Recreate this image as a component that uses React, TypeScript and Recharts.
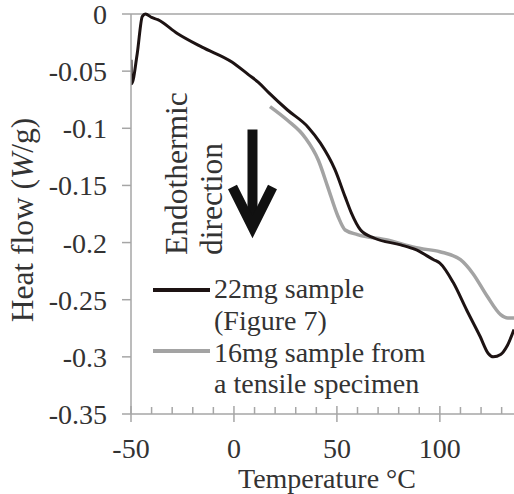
import React from 'react';
import { LineChart, Line, XAxis, YAxis, ReferenceLine } from 'recharts';

const FONT = 'Times New Roman';
const TEXT = '#333333';
const AXIS = '#a6a6a6';
const FS = 28;
const FS_ROT = 31.5;

// 22mg sample (Figure 7)
const sample22Temp = [-50, -49.7, -47, -44.5, -43, -40, -37, -27.5, -15.5, -1, 7, 12, 17, 26, 36, 42, 49, 54, 57, 61.5, 68, 81, 88, 97, 100, 106.5, 113, 119.5, 123.5, 126, 129.5, 132.5, 136];
const sample22Flow = [-0.040, -0.061, -0.035, -0.002, 0.0, -0.003, -0.005, -0.017, -0.029, -0.042, -0.053, -0.060, -0.069, -0.084, -0.099, -0.113, -0.136, -0.160, -0.174, -0.189, -0.196, -0.202, -0.206, -0.215, -0.218, -0.235, -0.259, -0.282, -0.297, -0.300, -0.298, -0.291, -0.276];

// 16mg sample from a tensile specimen
const sample16Temp = [17.5, 26, 34.5, 41, 45.5, 50.5, 54, 60, 75, 83, 90, 100, 110, 116, 123, 129.5, 133, 136];
const sample16Flow = [-0.081, -0.093, -0.108, -0.128, -0.151, -0.177, -0.189, -0.193, -0.198, -0.202, -0.205, -0.208, -0.215, -0.227, -0.247, -0.263, -0.266, -0.266];

const xTickValues = [-50, -40, -30, -20, -10, 0, 10, 20, 30, 40, 50, 60, 70, 80, 90, 100, 110, 120, 130];
const xLabelValues = [-50, 0, 50, 100];
const yTickValues = [0, -0.05, -0.1, -0.15, -0.2, -0.25, -0.3, -0.35];

const legendLabels = [
  ['22mg sample', '(Figure 7)'],
  ['16mg sample from', 'a tensile specimen'],
];
const annotationLines = ['Endothermic', 'direction'];

const data22 = sample22Temp.map((t, i) => ({ t, v: sample22Flow[i] }));
const data16 = sample16Temp.map((t, i) => ({ t, v: sample16Flow[i] }));

function XTick(props: any) {
  const { x, y, payload } = props;
  const major = xLabelValues.includes(payload.value);
  return (
    <g>
      <line x1={x} x2={x} y1={major ? y - 8 : y - 7} y2={major ? y + 8 : y} stroke={AXIS} strokeWidth={1.5} />
      {major && (
        <text x={x} y={y + 44} textAnchor="middle" fontSize={FS} fill={TEXT} fontFamily={FONT}>
          {payload.value}
        </text>
      )}
    </g>
  );
}

function YTick(props: any) {
  const { x, y, payload } = props;
  const v = payload.value;
  const label = v === 0 ? '0' : String(Math.round(v * 100) / 100);
  return (
    <text x={x} y={y + 10} textAnchor="end" fontSize={FS} fill={TEXT} fontFamily={FONT}>
      {label}
    </text>
  );
}

function ArrowShape(props: any) {
  const { x1, y1, x2, y2 } = props;
  const v = y2 - 11;
  return (
    <g>
      <line x1={x1} y1={y1} x2={x2} y2={v - 6} stroke="#111" strokeWidth={10} />
      <polyline
        points={`${x2 - 20},${v - 40} ${x2},${v} ${x2 + 20},${v - 40}`}
        fill="none"
        stroke="#111"
        strokeWidth={10}
        strokeLinejoin="miter"
      />
    </g>
  );
}

export default function App() {
  return (
    <div style={{ position: 'absolute', left: 0, top: 0, width: 514, height: 494, background: '#fff' }}>
      <LineChart width={514} height={494} margin={{ top: 14, right: 0, bottom: 0, left: 0 }}>
        <XAxis
          dataKey="t"
          type="number"
          domain={[-50, 136]}
          ticks={xTickValues}
          interval={0}
          allowDataOverflow
          tickLine={false}
          tickSize={0}
          tickMargin={0}
          height={80}
          stroke={AXIS}
          strokeWidth={1.5}
          tick={<XTick />}
        />
        <YAxis
          type="number"
          domain={[-0.35, 0]}
          ticks={yTickValues}
          interval={0}
          width={131}
          tickSize={9}
          tickMargin={15}
          stroke={AXIS}
          strokeWidth={1.5}
          tick={<YTick />}
        />
        <ReferenceLine y={0} stroke={AXIS} strokeWidth={1.5} />
        <ReferenceLine
          segment={[{ x: 9, y: -0.101 }, { x: 9, y: -0.196 }]}
          stroke="#111"
          shape={<ArrowShape />}
        />
        <Line data={data16} dataKey="v" type="monotone" stroke="#a3a3a3" strokeWidth={3.5} dot={false} isAnimationActive={false} />
        <Line data={data22} dataKey="v" type="monotone" stroke="#1d1313" strokeWidth={3} dot={false} isAnimationActive={false} />
      </LineChart>
      <svg width={514} height={494} style={{ position: 'absolute', left: 0, top: 0, pointerEvents: 'none' }}>
        <g fill={TEXT} fontFamily={FONT} fontSize={FS}>
          <text transform="translate(33,220) rotate(-90)" textAnchor="middle" fontSize={FS_ROT}>
            Heat flow (<tspan fontStyle="italic">W</tspan>/g)
          </text>
          <text x={327} y={488} textAnchor="middle">Temperature °C</text>
          <text transform="translate(187,255) rotate(-90)" fontSize={FS_ROT}>{annotationLines[0]}</text>
          <text transform="translate(222,255) rotate(-90)" fontSize={FS_ROT}>{annotationLines[1]}</text>
          <text x={214} y={298}>{legendLabels[0][0]}</text>
          <text x={214} y={330}>{legendLabels[0][1]}</text>
          <text x={214} y={362}>{legendLabels[1][0]}</text>
          <text x={214} y={393}>{legendLabels[1][1]}</text>
        </g>
        <line x1={153} x2={210} y1={290} y2={290} stroke="#1d1313" strokeWidth={4} />
        <line x1={153} x2={210} y1={351} y2={351} stroke="#a3a3a3" strokeWidth={4} />
      </svg>
    </div>
  );
}
